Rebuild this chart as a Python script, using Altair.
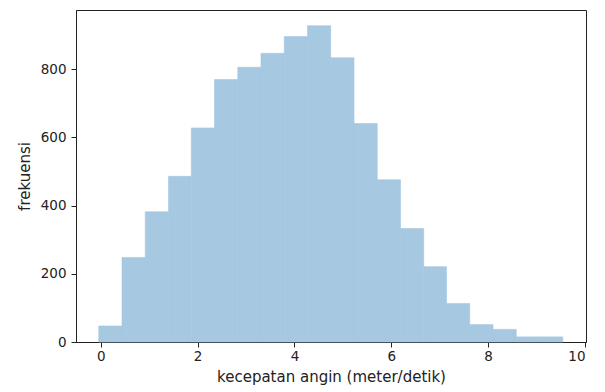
import altair as alt
import pandas as pd

bin_start = [-0.04, 0.44, 0.92, 1.40, 1.87, 2.35, 2.83, 3.31, 3.79, 4.27,
             4.75, 5.23, 5.71, 6.19, 6.67, 7.14, 7.62, 8.10, 8.58, 9.06]
bin_end = [0.44, 0.92, 1.40, 1.87, 2.35, 2.83, 3.31, 3.79, 4.27, 4.75,
           5.23, 5.71, 6.19, 6.67, 7.14, 7.62, 8.10, 8.58, 9.06, 9.54]
frekuensi = [47, 248, 382, 486, 628, 770, 806, 847, 896, 928,
             834, 641, 476, 333, 221, 113, 51, 37, 15, 15]
x_ticks = [0, 2, 4, 6, 8, 10]
y_ticks = [0, 200, 400, 600, 800]

df = pd.DataFrame({"start": bin_start, "end": bin_end, "count": frekuensi})

font = "DejaVu Sans"

chart = alt.Chart(df).mark_rect(
    color="#a6c8e1", stroke="#a6c8e1", strokeWidth=0.6
).encode(
    x=alt.X("start:Q",
            scale=alt.Scale(domain=[-0.51, 10.02], nice=False, zero=False),
            axis=alt.Axis(values=x_ticks, title="kecepatan angin (meter/detik)",
                          format="d")),
    x2="end:Q",
    y=alt.Y("count:Q",
            scale=alt.Scale(domain=[0, 974], nice=False),
            axis=alt.Axis(values=y_ticks, title="frekuensi", format="d")),
    y2=alt.datum(0),
).properties(
    width=510, height=332,
    autosize=alt.AutoSizeParams(type="none"),
    padding={"left": 68, "top": 2, "right": 11, "bottom": 60},
).configure_view(
    stroke="#222222", strokeWidth=1
).configure_axis(
    grid=False,
    domainColor="#222222",
    tickColor="#222222",
    tickSize=5,
    labelFont=font,
    labelFontSize=13.5,
    labelColor="#222222",
    titleFont=font,
    titleFontSize=15,
    titleFontWeight="normal",
    titleColor="#222222",
).configure_axisX(
    labelPadding=2,
    titlePadding=7,
).configure_axisY(
    labelPadding=5,
    titlePadding=8,
)

chart.save("out.html", embed_options={"renderer": "svg", "actions": False})
